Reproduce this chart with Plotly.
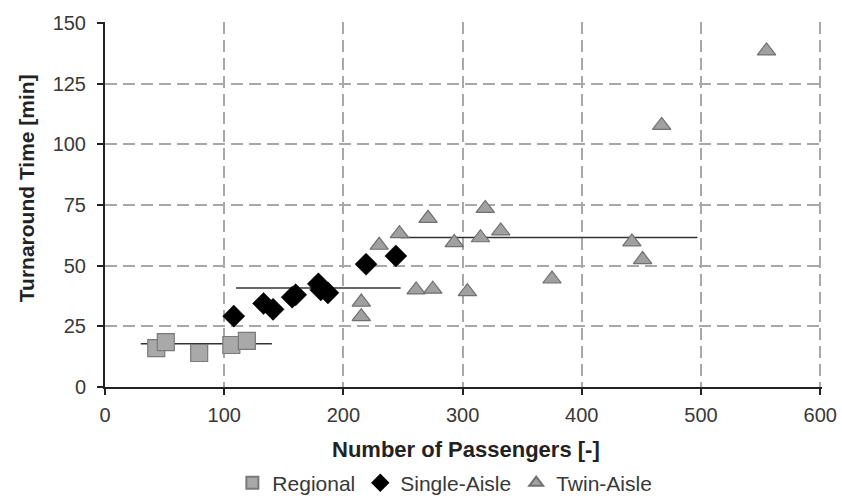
import plotly.graph_objects as go

# Data
regional_x = [43, 51, 79, 106, 119]
regional_y = [16, 18.5, 14, 17.3, 19]

single_x = [108, 133, 141, 157, 160, 179, 181, 187, 219, 244]
single_y = [29.2, 34.4, 32, 37, 38, 42.5, 40, 38.8, 50.6, 54]

twin_x = [215, 215, 230, 247, 261, 271, 275, 293, 304, 315, 319, 332, 375, 442, 451, 467, 555]
twin_y = [35, 29, 58.4, 63.2, 40, 69.5, 40.3, 59.5, 39.3, 61.5, 73.6, 64.3, 44.5, 59.8, 52.5, 107.8, 138.5]

# Class mean lines: (x start, x end, y)
regional_mean = (30, 140, 17.8)
single_mean = (110, 248, 40.8)
twin_mean = (248, 497, 61.6)

x_ticks = [0, 100, 200, 300, 400, 500, 600]
y_ticks = [0, 25, 50, 75, 100, 125, 150]

x_title = "Number of Passengers [-]"
y_title = "Turnaround Time [min]"

fig = go.Figure()

for seg in (regional_mean, single_mean, twin_mean):
    fig.add_trace(go.Scatter(
        x=[seg[0], seg[1]], y=[seg[2], seg[2]], mode="lines",
        line=dict(color="#333333", width=1.6), showlegend=False, hoverinfo="skip"))

fig.add_trace(go.Scatter(
    x=regional_x, y=regional_y, mode="markers", name="Regional",
    marker=dict(symbol="square", size=17, color="#a9a9a9",
                line=dict(color="#7a7a7a", width=1.2))))
fig.add_trace(go.Scatter(
    x=single_x, y=single_y, mode="markers", name="Single-Aisle",
    marker=dict(symbol="diamond", size=17, color="#000000",
                line=dict(color="#000000", width=0.5))))
fig.add_trace(go.Scatter(
    x=twin_x, y=twin_y, mode="markers", name="Twin-Aisle",
    marker=dict(symbol="triangle-up", size=16, color="#a0a0a0",
                line=dict(color="#707070", width=1.2))))

font_family = "Liberation Sans, Arial, sans-serif"
axis_style = dict(showgrid=True, gridcolor="#a8a8a8", gridwidth=2, griddash="12px,6px",
                  showline=True, linecolor="#222222", linewidth=2,
                  ticks="outside", ticklen=6, tickcolor="#222222", tickwidth=1.5,
                  zeroline=False, automargin=False,
                  tickfont=dict(size=20, color="#383838", family=font_family))

fig.update_xaxes(range=[0, 601.5], tickvals=x_ticks, ticktext=[str(v) for v in x_ticks],
                 ticklabelstandoff=3, **axis_style)
fig.update_yaxes(range=[0, 150.4], tickvals=y_ticks, ticktext=[str(v) for v in y_ticks],
                 ticklabelstandoff=7, **axis_style)

fig.update_layout(
    width=842, height=498,
    margin=dict(l=105, r=20, t=22, b=111),
    plot_bgcolor="white", paper_bgcolor="white",
    font=dict(family=font_family, size=20, color="#383838"),
    legend=dict(orientation="h", x=0.474, xanchor="center",
                yref="container", y=0.030, yanchor="middle",
                font=dict(size=21, color="#383838"), itemsizing="constant",
                traceorder="normal", itemwidth=30, tracegroupgap=0,
                bgcolor="rgba(0,0,0,0)"),
    showlegend=True,
    annotations=[
        dict(text="<b>" + x_title + "</b>", xref="paper", yref="paper",
             x=0.504, y=-0.1726, xanchor="center", yanchor="middle", showarrow=False,
             font=dict(size=22, color="#222222", family=font_family)),
        dict(text="<b>" + y_title + "</b>", xref="paper", yref="paper",
             x=-0.110, y=0.545, xanchor="center", yanchor="middle", showarrow=False,
             textangle=-90, font=dict(size=21, color="#222222", family=font_family)),
    ],
)

fig.write_html(
    "out.html",
    config={"displayModeBar": False},
    post_script="document.body.style.margin='0';"
                "document.documentElement.style.overflow='hidden';"
                "document.body.style.overflow='hidden';",
)
